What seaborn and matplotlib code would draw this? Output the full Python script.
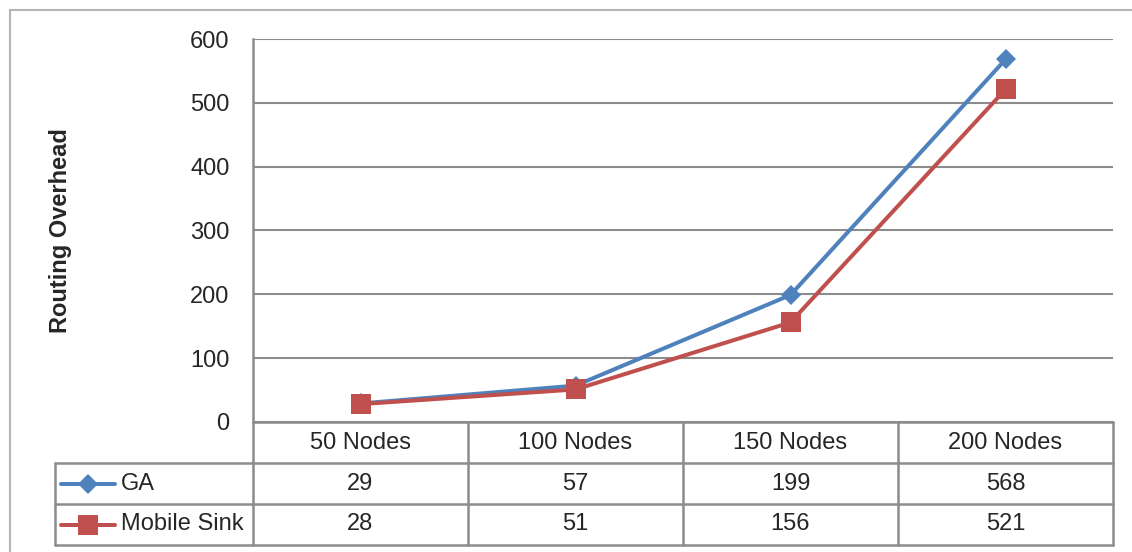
import pandas as pd
import seaborn as sns
import matplotlib.pyplot as plt
from matplotlib.lines import Line2D

# data
categories = ["50 Nodes", "100 Nodes", "150 Nodes", "200 Nodes"]
ga = [29, 57, 199, 568]
mobile_sink = [28, 51, 156, 521]
series_names = ["GA", "Mobile Sink"]

blue = "#4F81BD"
red = "#C0504D"
grid_grey = "#8C8C8C"

sns.set_style("white")
plt.rcParams["font.family"] = ["Liberation Sans", "DejaVu Sans"]

W, H = 1132, 552
fig = plt.figure(figsize=(W / 100, H / 100), dpi=100)

# plot area in pixels: x 253..1113, y 39..422
ax = fig.add_axes([253 / W, (H - 422) / H, (1113 - 253) / W, (422 - 39) / H])

data = pd.DataFrame({"nodes": categories, "GA": ga, "Mobile Sink": mobile_sink})
styles = {"GA": (blue, "D", 10.5), "Mobile Sink": (red, "s", 14.5)}
for name in series_names:
    color, marker, ms = styles[name]
    sns.lineplot(data=data, x="nodes", y=name, ax=ax, color=color, lw=2.9,
                 marker=marker, markersize=ms, markeredgewidth=0,
                 legend=False, zorder=3)

ax.set_xlim(-0.5, len(categories) - 0.5)
ax.set_ylim(0, 600)
ax.set_yticks(range(0, 601, 100))
ax.yaxis.grid(True, color=grid_grey, lw=1.5)
ax.set_axisbelow(True)
ax.tick_params(axis="y", length=0, pad=17, labelsize=17)
ax.tick_params(axis="x", length=0, labelbottom=False)
ax.set_xlabel("")
ax.set_ylabel("Routing Overhead", fontsize=17, fontweight="bold")
ax.yaxis.set_label_coords(-0.21, 0.5)
for s in ["top", "right", "bottom"]:
    ax.spines[s].set_visible(False)
ax.spines["left"].set_color(grid_grey)
ax.spines["left"].set_linewidth(1.8)

# data table below the plot, x aligned with categories
unit = (1113 - 253) / len(categories)
left_ext = -0.5 - (253 - 55) / unit
tab = fig.add_axes([55 / W, (H - 545) / H, (1113 - 55) / W, (545 - 422) / H])
tab.set_xlim(left_ext, len(categories) - 0.5)
tab.set_ylim(3, 0)
tab.axis("off")

lc = dict(color=grid_grey, lw=1.8, clip_on=False)
n = len(categories)
# horizontal lines
tab.plot([-0.5, n - 0.5], [0, 0], **lc)
for yy in [1, 2, 3]:
    tab.plot([left_ext, n - 0.5], [yy, yy], **lc)
# vertical lines
for i in range(n + 1):
    tab.plot([i - 0.5, i - 0.5], [0, 3], **lc)
tab.plot([left_ext, left_ext], [1, 3], **lc)

for i, c in enumerate(categories):
    tab.text(i, 0.52, c, ha="center", va="center", fontsize=17)

rows = {"GA": ga, "Mobile Sink": mobile_sink}
for r, name in enumerate(series_names):
    color, marker, ms = styles[name]
    yy = r + 1.5
    x0 = left_ext + 6 / unit
    x1 = left_ext + 60 / unit
    tab.plot([x0, x1], [yy, yy], color=color, lw=2.9, solid_capstyle="round")
    tab.plot([(x0 + x1) / 2], [yy], marker=marker, color=color,
             markersize=ms, markeredgewidth=0)
    tab.text(left_ext + 66 / unit, yy, name, ha="left", va="center", fontsize=17)
    for i, v in enumerate(rows[name]):
        tab.text(i, yy, str(v), ha="center", va="center", fontsize=17)

# outer chart border (top and left visible)
border = "#B4B4B4"
fig.add_artist(Line2D([10 / W, 1], [(H - 10) / H, (H - 10) / H], color=border, lw=1.5))
fig.add_artist(Line2D([10 / W, 10 / W], [0, (H - 10) / H], color=border, lw=1.5))

fig.savefig("out.png", dpi=100)
